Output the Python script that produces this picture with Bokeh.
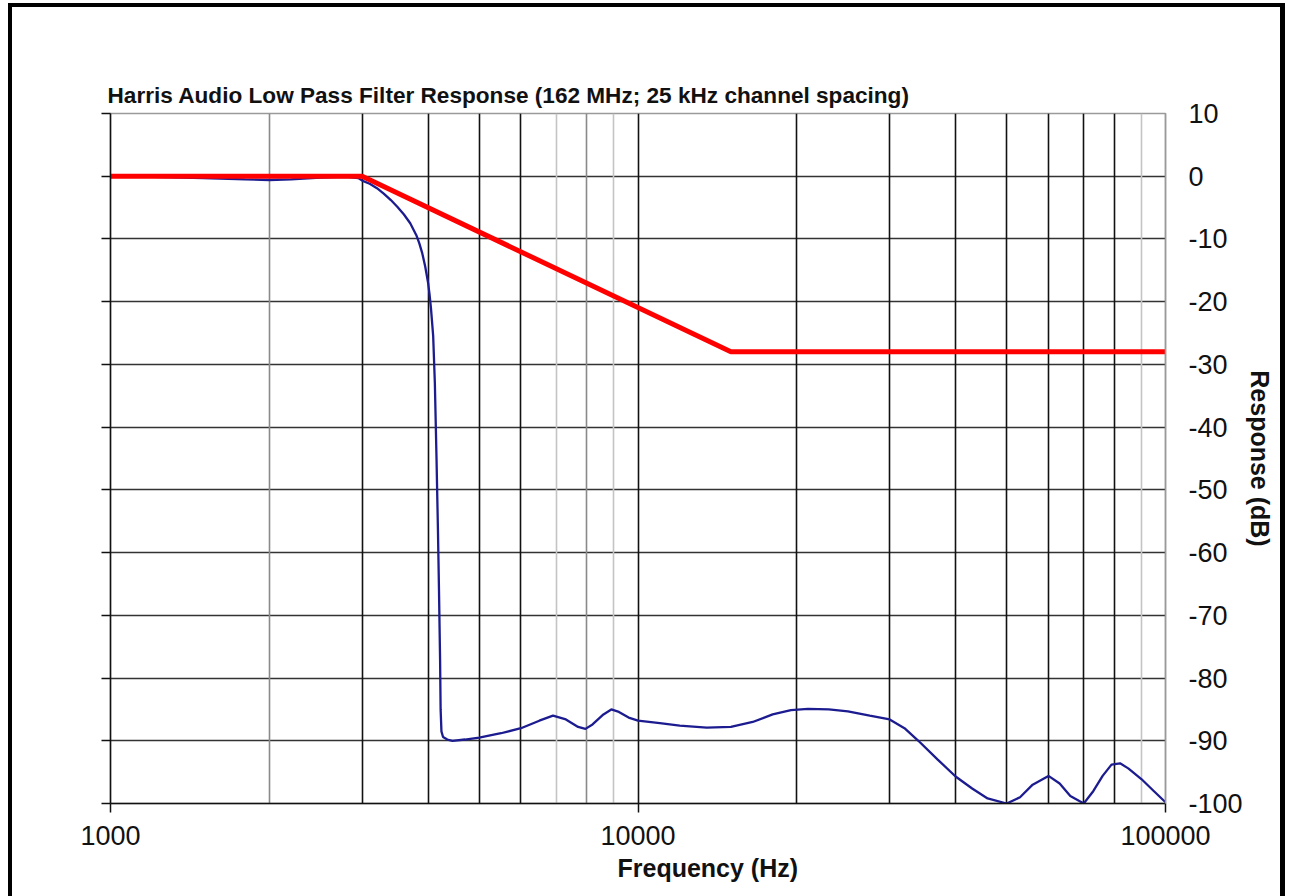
from bokeh.plotting import figure
from bokeh.models import LinearAxis, Grid, FixedTicker, Title, Range1d
from bokeh.embed import file_html
from bokeh.resources import INLINE

# ---- data ----
red_freq = [1000, 3000, 15000, 100000]
red_db = [0, 0, -28, -28]

blue_freq = [1000, 1200, 1500, 1800, 2000, 2200, 2500, 2800, 2950, 3000,
             3100, 3200, 3300, 3400, 3500, 3600, 3700, 3800, 3850, 3900, 3950,
             4000, 4025, 4050, 4090, 4120, 4150, 4175, 4195, 4215, 4225,
             4240, 4270, 4350, 4450, 4700, 5000, 5500, 6000, 6500, 6900,
             7300, 7700, 7950, 8200, 8600, 8900, 9200, 9600, 10000, 11000,
             12000, 13500, 15000, 16500, 18000, 19500, 21000, 23000, 25000, 27500,
             30000, 32000, 34000, 37000, 40000, 43000, 46000, 50000, 53000, 56000,
             60000, 63000, 66000, 70000, 73000, 76000, 79000, 82000, 85000, 90000,
             95000, 100000]
blue_db = [0.0, -0.1, -0.3, -0.5, -0.6, -0.5, -0.2, -0.1, -0.3, -0.7,
           -1.2, -1.9, -2.8, -3.8, -4.9, -6.1, -7.5, -9.4, -10.7, -12.3, -14.4,
           -17.0, -18.8, -21.0, -25.5, -33.0, -45.0, -56.0, -66.0, -77.0, -85.0,
           -88.5, -89.4, -89.8, -90.0, -89.8, -89.5, -88.8, -88.0, -86.8, -86.0,
           -86.6, -87.8, -88.1, -87.4, -85.8, -85.0, -85.4, -86.3, -86.8, -87.2,
           -87.6, -87.9, -87.8, -87.0, -85.8, -85.1, -84.9, -85.0, -85.3, -86.0,
           -86.6, -88.0, -90.0, -93.0, -95.7, -97.6, -99.2, -100.0, -99.0, -97.0,
           -95.6, -96.8, -98.8, -100.0, -98.0, -95.6, -93.8, -93.6, -94.4, -96.1,
           -98.0, -99.8]

x_tick_values = [1000, 10000, 100000]
x_tick_labels = ["1000", "10000", "100000"]
y_tick_values = [-100, -90, -80, -70, -60, -50, -40, -30, -20, -10, 0, 10]
y_tick_labels = ["-100", "-90", "-80", "-70", "-60", "-50", "-40", "-30",
                 "-20", "-10", "0", "10"]
y_grid_values = [-90, -80, -70, -60, -50, -40, -30, -20, -10, 0]

grid_black = [3000, 4000, 5000, 6000, 10000, 20000, 30000, 40000, 50000,
              60000, 70000, 80000]
grid_mid = [2000, 8000]
grid_light = [7000, 9000, 90000]

FONT = "Liberation Sans"
TXT = "#111111"

p = figure(width=1285, height=896, x_axis_type="log",
           x_range=Range1d(1000, 100000), y_range=Range1d(-100, 10),
           output_backend="svg", toolbar_location=None,
           min_border_left=110, min_border_right=120,
           min_border_top=113, min_border_bottom=93)

p.border_fill_color = None
p.background_fill_color = "white"
p.outline_line_color = "#9a9a9a"
p.outline_line_width = 1.5
p.styles = {"box-shadow": ("inset 8px 3px 0 0 #fff, "
                           "inset 12px 7px 0 0 #000, "
                           "inset -5px 0 0 0 #000")}

# title
p.title.text = "Harris Audio Low Pass Filter Response (162 MHz; 25 kHz channel spacing)"
p.title.text_font = FONT
p.title.text_font_style = "bold"
p.title.text_font_size = "22.6px"
p.title.text_color = TXT
p.title.align = "left"
p.title.offset = -3
p.title.standoff = 12

# default grids off
p.xgrid.visible = False
p.ygrid.visible = False

# custom grids
p.add_layout(Grid(dimension=1, ticker=FixedTicker(ticks=y_grid_values),
                  grid_line_color="#333333", grid_line_width=1.6))
p.add_layout(Grid(dimension=0, ticker=FixedTicker(ticks=grid_light),
                  grid_line_color="#c4c4c4", grid_line_width=1.6))
p.add_layout(Grid(dimension=0, ticker=FixedTicker(ticks=grid_mid),
                  grid_line_color="#8a8a8a", grid_line_width=1.6))
p.add_layout(Grid(dimension=0, ticker=FixedTicker(ticks=grid_black),
                  grid_line_color="#111111", grid_line_width=1.6))

# x axis
xa = p.xaxis[0]
xa.ticker = FixedTicker(ticks=x_tick_values, minor_ticks=[])
xa.major_label_overrides = {v: s for v, s in zip(x_tick_values, x_tick_labels)}
xa.major_tick_out = 9
xa.major_tick_in = 0
xa.major_tick_line_color = "#111111"
xa.major_tick_line_width = 1.5
xa.minor_tick_line_color = None
xa.axis_line_color = "#111111"
xa.axis_line_width = 1.5
xa.major_label_text_font = FONT
xa.major_label_text_font_size = "27px"
xa.major_label_text_color = TXT
xa.major_label_standoff = 13

# left axis: ticks only
ya = p.yaxis[0]
ya.ticker = FixedTicker(ticks=y_tick_values, minor_ticks=[])
ya.major_tick_out = 9
ya.major_tick_in = 0
ya.major_tick_line_color = "#111111"
ya.major_tick_line_width = 1.5
ya.minor_tick_line_color = None
ya.axis_line_color = "#111111"
ya.axis_line_width = 1.5
ya.major_label_text_color = None

# right axis: labels only
ra = LinearAxis(ticker=FixedTicker(ticks=y_tick_values, minor_ticks=[]))
ra.major_label_overrides = {v: s for v, s in zip(y_tick_values, y_tick_labels)}
ra.major_tick_out = 0
ra.major_tick_in = 0
ra.major_tick_line_color = None
ra.minor_tick_line_color = None
ra.axis_line_color = "#9a9a9a"
ra.axis_line_width = 1.5
ra.major_label_text_font = FONT
ra.major_label_text_font_size = "27px"
ra.major_label_text_color = TXT
ra.major_label_standoff = 23
ra.axis_label = "Response (dB)"
ra.axis_label_text_font = FONT
ra.axis_label_text_font_style = "bold"
ra.axis_label_text_font_size = "25px"
ra.axis_label_text_color = TXT
ra.axis_label_standoff = 0
p.add_layout(ra, "right")

# x axis label as a below title (shifted like the reference)
xt = Title(text="Frequency (Hz)", align="left", offset=507,
           text_font=FONT, text_font_style="bold", text_font_size="25px",
           text_color=TXT, standoff=8)
p.add_layout(xt, "below")

# data lines
p.line(blue_freq, blue_db, line_color="#1c1c90", line_width=2.3)
p.line(red_freq, red_db, line_color="#ff0000", line_width=5)

open("out.html", "w").write(file_html(p, INLINE))
